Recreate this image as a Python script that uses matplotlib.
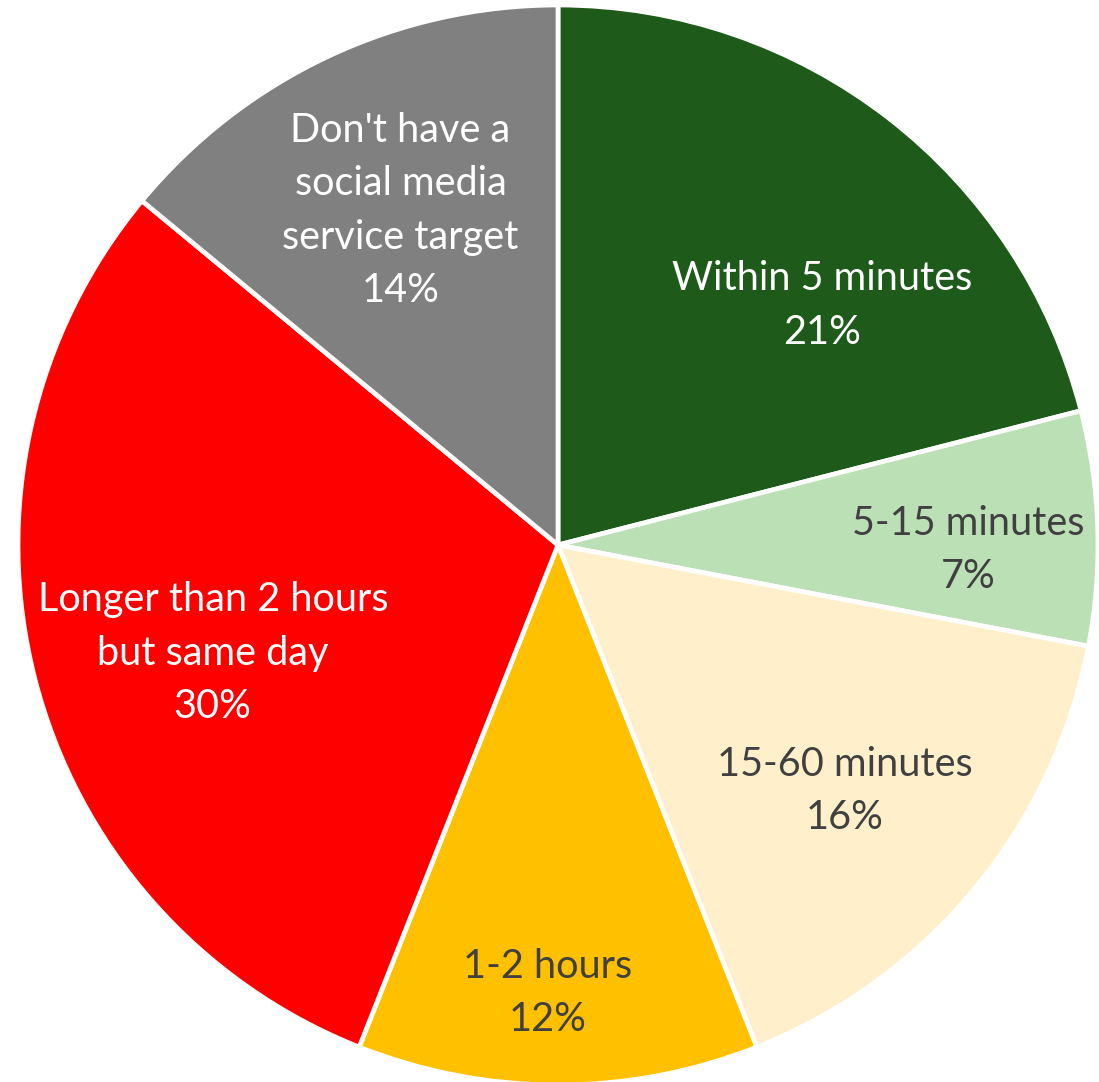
import matplotlib
matplotlib.use("Agg")
import matplotlib.pyplot as plt
import numpy as np

categories = [
    "Within 5 minutes",
    "5-15 minutes",
    "15-60 minutes",
    "1-2 hours",
    "Longer than 2 hours\nbut same day",
    "Don't have a\nsocial media\nservice target",
]
shares = [21, 7, 16, 12, 30, 14]
colors = ["#1E5B1B", "#BCE0B5", "#FFF0CB", "#FFC000", "#FF0000", "#808080"]
text_colors = ["white", "#404040", "#404040", "#404040", "white", "white"]

# label placement: fraction of radius and angular nudge (degrees) from slice middle
label_radius = [0.66, 0.76, 0.70, 0.83, 0.67, 0.685]
label_shift = [-10.0, -2.5, -1.0, -1.3, 3.0, 0.0]

W, H, DPI = 1099, 1082, 100
fig = plt.figure(figsize=(W / DPI, H / DPI), dpi=DPI)
ax = fig.add_axes([0, 0, 1, 1])

cx, cy, R = 558, 545, 540  # centre and radius in pixels

wedges, _ = ax.pie(
    shares,
    colors=colors,
    startangle=90,
    counterclock=False,
    radius=1.0,
    wedgeprops=dict(edgecolor="white", linewidth=3.4),
    frame=False,
)
ax.axis("off")
ax.set_xlim(-cx / R, (W - cx) / R)
ax.set_ylim(-(H - cy) / R, cy / R)
ax.set_aspect("auto")

for w, cat, val, tc, r, s in zip(wedges, categories, shares, text_colors,
                                  label_radius, label_shift):
    mid = np.deg2rad((w.theta1 + w.theta2) / 2 + s)
    ax.text(r * np.cos(mid), r * np.sin(mid), f"{cat}\n{val}%",
            ha="center", va="center", color=tc, fontsize=28.5,
            family=["Lato", "DejaVu Sans"], linespacing=1.55)

fig.savefig("out.png", dpi=DPI)
